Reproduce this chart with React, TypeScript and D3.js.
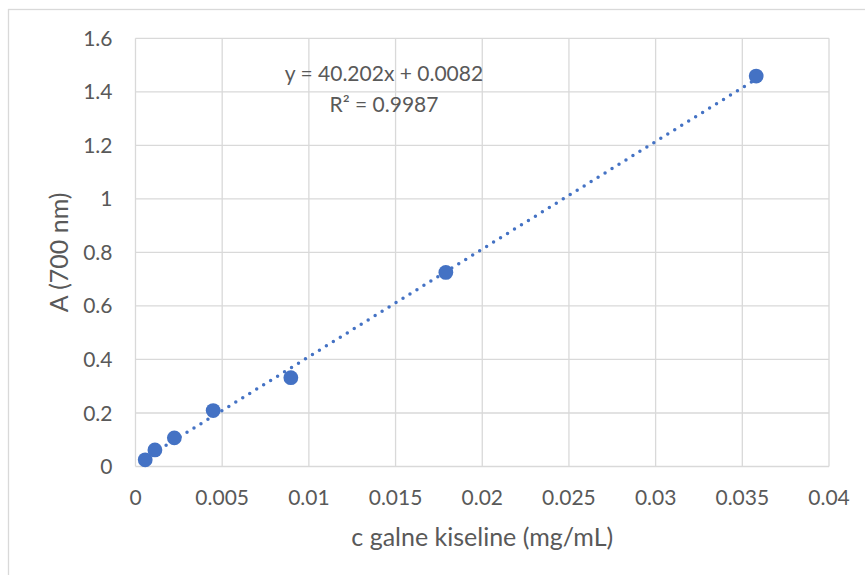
import React from "react";
import * as d3 from "d3";

const concentrations = [0.00056, 0.00112, 0.00224, 0.00448, 0.00896, 0.0179, 0.0358];
const absorbances = [0.025, 0.062, 0.107, 0.209, 0.332, 0.725, 1.459];
const xTicks = [0, 0.005, 0.01, 0.015, 0.02, 0.025, 0.03, 0.035, 0.04];
const yTicks = [0, 0.2, 0.4, 0.6, 0.8, 1, 1.2, 1.4, 1.6];
const slope = 40.202;
const intercept = 0.0082;
const equationLabel = "y = 40.202x + 0.0082";
const r2Label = "R² = 0.9987";
const xTitle = "c galne kiseline (mg/mL)";
const yTitle = "A (700 nm)";

const W = 865;
const H = 575;
const FONT = "Lato, 'Open Sans', sans-serif";
const TEXT = "#595959";
const GRID = "#D9D9D9";
const BLUE = "#4472C4";

export default function App() {
  const x = d3.scaleLinear().domain([0, 0.04]).range([135.5, 829]);
  const y = d3.scaleLinear().domain([0, 1.6]).range([466.5, 38.3]);
  const fmt = (v: number) => String(+v.toFixed(4));
  const x0 = d3.min(concentrations)!;
  const x1 = d3.max(concentrations)!;
  const trend = d3.line<number>().x((d) => x(d)).y((d) => y(slope * d + intercept))([x0, x1]);

  return (
    <svg width={W} height={H} style={{ position: "absolute", left: 0, top: 0 }}>
      <rect x={0} y={0} width={W} height={H} fill="#fff" />
      <rect x={8.5} y={9.5} width={900} height={600} fill="#fff" stroke={GRID} strokeWidth={1.3} />
      {xTicks.map((t) => (
        <line key={"gx" + t} x1={x(t)} x2={x(t)} y1={y(1.6)} y2={y(0)} stroke={GRID} strokeWidth={1.3} />
      ))}
      {yTicks.map((t) => (
        <line key={"gy" + t} x1={x(0)} x2={x(0.04)} y1={y(t)} y2={y(t)} stroke={GRID} strokeWidth={1.3} />
      ))}
      {yTicks.map((t) => (
        <text key={"ty" + t} x={112.5} y={y(t)} dy="0.36em" textAnchor="end" fill={TEXT} fontFamily={FONT} fontSize={21}>
          {fmt(t)}
        </text>
      ))}
      {xTicks.map((t) => (
        <text key={"tx" + t} x={x(t)} y={497.5} dy="0.36em" textAnchor="middle" fill={TEXT} fontFamily={FONT} fontSize={21}>
          {fmt(t)}
        </text>
      ))}
      <text x={(x(0) + x(0.04)) / 2} y={546} textAnchor="middle" fill={TEXT} fontFamily={FONT} fontSize={25}>
        {xTitle}
      </text>
      <text
        transform={`translate(68,${(y(0) + y(1.6)) / 2}) rotate(-90)`}
        textAnchor="middle"
        fill={TEXT}
        fontFamily={FONT}
        fontSize={25}
      >
        {yTitle}
      </text>
      <path d={trend ?? ""} fill="none" stroke={BLUE} strokeWidth={3.5} strokeLinecap="round" strokeDasharray="0 8.2" />
      {concentrations.map((c, i) => (
        <circle key={"p" + i} cx={x(c)} cy={y(absorbances[i])} r={7.4} fill={BLUE} />
      ))}
      <text x={384} y={81} textAnchor="middle" fill={TEXT} fontFamily={FONT} fontSize={21}>
        {equationLabel}
      </text>
      <text x={384} y={111.5} textAnchor="middle" fill={TEXT} fontFamily={FONT} fontSize={21}>
        {r2Label}
      </text>
    </svg>
  );
}
